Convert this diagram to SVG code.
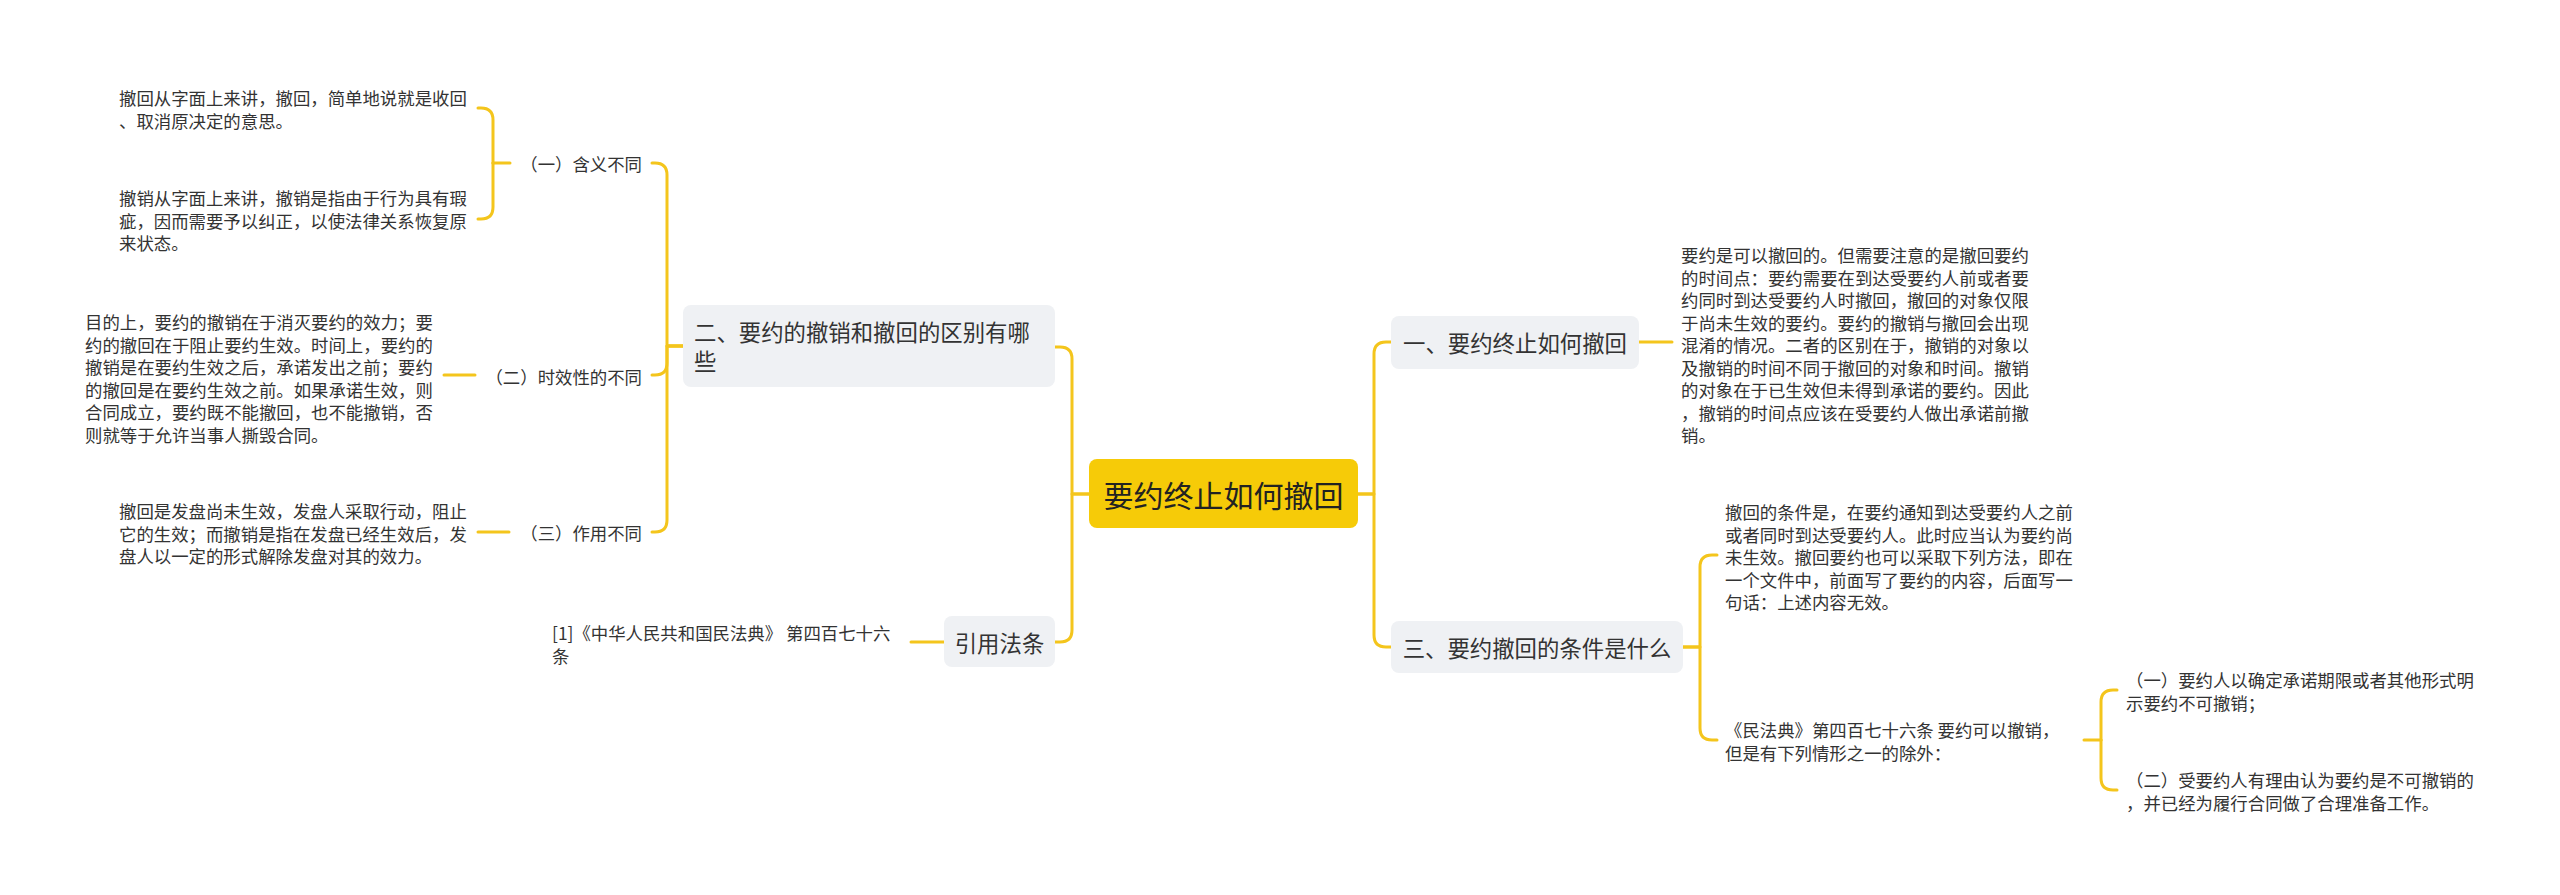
<svg xmlns="http://www.w3.org/2000/svg" width="2560" height="895" viewBox="0 0 2560 895">
<style>
text{font-family:"Noto Sans CJK SC","Noto Sans",sans-serif;fill:#333;dominant-baseline:central}
.d{font-size:17.4px}
.n{font-size:22.4px}
.c{font-size:30px;fill:#222}
.box{fill:#EFF1F4}
.root{fill:#F6CB08}
.ln{fill:none;stroke:#F4C51C;stroke-width:3;stroke-linecap:round;stroke-linejoin:round}
</style>
<rect width="2560" height="895" fill="#fff"/>
<g id="connectors">
<path class="ln" d="M1358,494 H1374 V354 Q1374,342 1386,342 H1391"/>
<path class="ln" d="M1358,494 H1374 V635 Q1374,647 1386,647 H1391"/>
<path class="ln" d="M1089,494 H1072 V359 Q1072,347 1060,347 H1055"/>
<path class="ln" d="M1089,494 H1072 V630 Q1072,642 1060,642 H1055"/>
<path class="ln" d="M1639,342 H1672"/>
<path class="ln" d="M1683,647 H1700 V567 Q1700,555 1712,555 H1717"/>
<path class="ln" d="M1683,647 H1700 V728 Q1700,740 1712,740 H1717"/>
<path class="ln" d="M2084,740 H2101"/>
<path class="ln" d="M2101,740 V702 Q2101,690 2113,690 H2117"/>
<path class="ln" d="M2101,740 V778 Q2101,790 2113,790 H2117"/>
<path class="ln" d="M683,346 H667 V175 Q667,163 655,163 H652"/>
<path class="ln" d="M683,346 H667 V363 Q667,375 655,375 H652"/>
<path class="ln" d="M683,346 H667 V520 Q667,532 655,532 H652"/>
<path class="ln" d="M510,163 H493"/>
<path class="ln" d="M493,163 V120 Q493,108 481,108 H478"/>
<path class="ln" d="M493,163 V207 Q493,219 481,219 H478"/>
<path class="ln" d="M475,375 H444"/>
<path class="ln" d="M509,532 H478"/>
<path class="ln" d="M944,642 H911"/>
</g>
<g id="root">
<rect class="root" x="1089" y="459" width="269" height="69" rx="8"/>
<text class="c" x="1223.5" y="494" text-anchor="middle">要约终止如何撤回</text>
</g>
<g id="n1">
<rect class="box" x="1391" y="316" width="248" height="53" rx="8"/>
<text class="n" x="1515" y="342" text-anchor="middle">一、要约终止如何撤回</text>
</g>
<g id="n1d">
<text class="d"><tspan x="1681" y="254">要约是可以撤回的。但需要注意的是撤回要约</tspan><tspan x="1681" y="276.5">的时间点：要约需要在到达受要约人前或者要</tspan><tspan x="1681" y="299">约同时到达受要约人时撤回，撤回的对象仅限</tspan><tspan x="1681" y="321.5">于尚未生效的要约。要约的撤销与撤回会出现</tspan><tspan x="1681" y="344">混淆的情况。二者的区别在于，撤销的对象以</tspan><tspan x="1681" y="366.5">及撤销的时间不同于撤回的对象和时间。撤销</tspan><tspan x="1681" y="389">的对象在于已生效但未得到承诺的要约。因此</tspan><tspan x="1681" y="411.5">，撤销的时间点应该在受要约人做出承诺前撤</tspan><tspan x="1681" y="434">销。</tspan></text>
</g>
<g id="n3">
<rect class="box" x="1391" y="621" width="292" height="52" rx="8"/>
<text class="n" x="1537" y="647" text-anchor="middle">三、要约撤回的条件是什么</text>
</g>
<g id="n3a">
<text class="d"><tspan x="1725" y="511">撤回的条件是，在要约通知到达受要约人之前</tspan><tspan x="1725" y="533.5">或者同时到达受要约人。此时应当认为要约尚</tspan><tspan x="1725" y="556">未生效。撤回要约也可以采取下列方法，即在</tspan><tspan x="1725" y="578.5">一个文件中，前面写了要约的内容，后面写一</tspan><tspan x="1725" y="601">句话：上述内容无效。</tspan></text>
</g>
<g id="n3b">
<text class="d"><tspan x="1725" y="729">《民法典》第四百七十六条 要约可以撤销，</tspan><tspan x="1725" y="751.5">但是有下列情形之一的除外：</tspan></text>
</g>
<g id="n3b1">
<text class="d"><tspan x="2126" y="679">（一）要约人以确定承诺期限或者其他形式明</tspan><tspan x="2126" y="701.5">示要约不可撤销；</tspan></text>
</g>
<g id="n3b2">
<text class="d"><tspan x="2126" y="779">（二）受要约人有理由认为要约是不可撤销的</tspan><tspan x="2126" y="801.5">，并已经为履行合同做了合理准备工作。</tspan></text>
</g>
<g id="n2">
<rect class="box" x="683" y="305" width="372" height="82" rx="8"/>
<text class="n"><tspan x="694" y="331">二、要约的撤销和撤回的区别有哪</tspan><tspan x="694" y="360">些</tspan></text>
</g>
<g id="n2a">
<text class="d" x="642" y="163" text-anchor="end">（一）含义不同</text>
</g>
<g id="n2a1">
<text class="d"><tspan x="119" y="97">撤回从字面上来讲，撤回，简单地说就是收回</tspan><tspan x="119" y="119.5">、取消原决定的意思。</tspan></text>
</g>
<g id="n2a2">
<text class="d"><tspan x="119" y="197">撤销从字面上来讲，撤销是指由于行为具有瑕</tspan><tspan x="119" y="219.5">疵，因而需要予以纠正，以使法律关系恢复原</tspan><tspan x="119" y="242">来状态。</tspan></text>
</g>
<g id="n2b">
<text class="d" x="642" y="376" text-anchor="end">（二）时效性的不同</text>
</g>
<g id="n2b1">
<text class="d"><tspan x="85" y="321">目的上，要约的撤销在于消灭要约的效力；要</tspan><tspan x="85" y="343.5">约的撤回在于阻止要约生效。时间上，要约的</tspan><tspan x="85" y="366">撤销是在要约生效之后，承诺发出之前；要约</tspan><tspan x="85" y="388.5">的撤回是在要约生效之前。如果承诺生效，则</tspan><tspan x="85" y="411">合同成立，要约既不能撤回，也不能撤销，否</tspan><tspan x="85" y="433.5">则就等于允许当事人撕毁合同。</tspan></text>
</g>
<g id="n2c">
<text class="d" x="642" y="532" text-anchor="end">（三）作用不同</text>
</g>
<g id="n2c1">
<text class="d"><tspan x="119" y="510">撤回是发盘尚未生效，发盘人采取行动，阻止</tspan><tspan x="119" y="532.5">它的生效；而撤销是指在发盘已经生效后，发</tspan><tspan x="119" y="555">盘人以一定的形式解除发盘对其的效力。</tspan></text>
</g>
<g id="n4">
<rect class="box" x="944" y="616" width="111" height="51" rx="8"/>
<text class="n" x="999.5" y="642" text-anchor="middle">引用法条</text>
</g>
<g id="n4a">
<text class="d"><tspan x="552" y="632">[1]《中华人民共和国民法典》 第四百七十六</tspan><tspan x="552" y="655">条</tspan></text>
</g>
</svg>
